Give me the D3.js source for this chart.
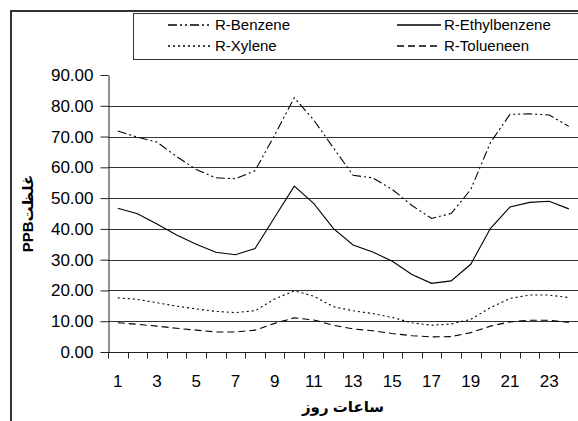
<!DOCTYPE html>
<html>
<head>
<meta charset="utf-8">
<script src="https://cdn.jsdelivr.net/npm/d3@7/dist/d3.min.js"></script>
<style>
  body { margin: 0; background: #fff; }
  svg { display: block; font-family: "Liberation Sans", Arial, "DejaVu Sans", sans-serif; }
</style>
</head>
<body>
<svg width="578" height="421"></svg>
<script>
// hours of the day
var hours = d3.range(1, 25);
var yTicks = [0, 10, 20, 30, 40, 50, 60, 70, 80, 90];

var benzene = [71.8, 69.8, 68.2, 63.5, 59.3, 56.6, 56.3, 58.9, 70.5, 82.6, 75.3, 66.3,
               57.4, 56.6, 52.8, 47.6, 43.4, 45.0, 52.8, 68.0, 77.2, 77.4, 77.0, 73.3];
var ethylbenzene = [46.7, 44.9, 41.6, 38.0, 35.0, 32.4, 31.6, 33.6, 43.8, 53.9, 48.2, 40.1,
                    34.8, 32.5, 29.5, 25.2, 22.3, 23.1, 28.5, 40.1, 47.1, 48.6, 49.0, 46.5];
var xylene = [17.6, 17.1, 16.0, 14.9, 14.0, 13.2, 12.8, 13.4, 17.2, 19.9, 18.1, 14.7,
              13.4, 12.5, 11.2, 9.5, 8.7, 9.1, 10.6, 14.4, 17.4, 18.5, 18.5, 17.7];
var toluene = [9.5, 9.0, 8.4, 7.7, 7.1, 6.5, 6.5, 7.1, 9.3, 11.1, 10.4, 8.7,
               7.5, 6.9, 6.0, 5.3, 4.9, 5.0, 6.3, 8.4, 9.8, 10.3, 10.3, 9.6];

var series = [
  {name: 'R-Benzene', values: benzene, dash: '9,3,2,3,2,3'},
  {name: 'R-Ethylbenzene', values: ethylbenzene, dash: null},
  {name: 'R-Xylene', values: xylene, dash: '2,3'},
  {name: 'R-Tolueneen', values: toluene, dash: '7,4'}
];

var svg = d3.select('svg');
var pLeft = 108, pRight = 578.6, pTop = 75, pBottom = 352;

// chart area border
svg.append('path')
  .attr('d', 'M11,430 L11,11 L590,11')
  .attr('fill', 'none').attr('stroke', '#333').attr('stroke-width', 2);

var x = d3.scaleBand().domain(hours).range([pLeft, pRight]);
var y = d3.scaleLinear().domain([0, 90]).range([pBottom, pTop]);

// gridlines
svg.append('g').selectAll('line')
  .data(yTicks.filter(function(d) { return d > 0 && d < 90; }))
  .enter().append('line')
  .attr('x1', pLeft).attr('x2', 578)
  .attr('y1', function(d) { return Math.round(y(d)) + 0.5; })
  .attr('y2', function(d) { return Math.round(y(d)) + 0.5; })
  .attr('stroke', '#333').attr('stroke-width', 1);

// y axis
var yAxis = svg.append('g')
  .attr('transform', 'translate(' + (pLeft + 0.5) + ',0)')
  .call(d3.axisLeft(y).tickValues(yTicks).tickFormat(d3.format('.2f')).tickSize(8).tickSizeOuter(0).tickPadding(7));
yAxis.selectAll('text').attr('font-size', 17).attr('fill', '#000').attr('font-family', '"Liberation Sans", Arial, sans-serif');
yAxis.selectAll('line, path').attr('stroke', '#222');

// x axis
var xAxis = svg.append('g')
  .attr('transform', 'translate(0,' + (Math.round(pBottom) + 0.5) + ')')
  .call(d3.axisBottom(x).tickSize(0).tickSizeOuter(0).tickPadding(22)
    .tickFormat(function(d) { return d % 2 == 1 ? d : ''; }));
xAxis.select('path').attr('d', 'M' + pLeft + ',0H578').attr('stroke', '#222');
xAxis.selectAll('text').attr('font-size', 17).attr('fill', '#000').attr('font-family', '"Liberation Sans", Arial, sans-serif');
xAxis.selectAll('line.bt')
  .data(hours)
  .enter().append('line')
  .attr('x1', function(d) { return Math.round(x(d)) + 0.5; })
  .attr('x2', function(d) { return Math.round(x(d)) + 0.5; })
  .attr('y1', 0).attr('y2', 6)
  .attr('stroke', '#222');

// lines
var line = d3.line()
  .x(function(d, i) { return x(hours[i]) + x.bandwidth() / 2; })
  .y(function(d) { return y(d); });

svg.append('g').selectAll('path')
  .data(series)
  .enter().append('path')
  .attr('d', function(s) { return line(s.values); })
  .attr('fill', 'none')
  .attr('stroke', '#000')
  .attr('stroke-width', 1.1)
  .attr('stroke-dasharray', function(s) { return s.dash; });

// axis titles
svg.append('text')
  .attr('transform', 'translate(33,' + ((pTop + pBottom) / 2) + ') rotate(-90)')
  .attr('text-anchor', 'middle')
  .attr('font-size', 15).attr('font-weight', 'bold')
  .text('PPBغلظت');

svg.append('text')
  .attr('x', (pLeft + 578) / 2).attr('y', 412)
  .attr('text-anchor', 'middle')
  .attr('font-size', 15).attr('font-weight', 'bold')
  .attr('direction', 'rtl')
  .text('ساعات روز');

// legend
var legend = svg.append('g');
legend.append('rect')
  .attr('x', 133.5).attr('y', 13.5).attr('width', 460).attr('height', 46)
  .attr('fill', '#fff').attr('stroke', '#333').attr('stroke-width', 1);

var lx = [168, 397], ly = [25, 46];
var item = legend.selectAll('g.item')
  .data(series)
  .enter().append('g')
  .attr('transform', function(d, i) { return 'translate(' + lx[i % 2] + ',' + ly[Math.floor(i / 2)] + ')'; });
item.append('line')
  .attr('x1', 0).attr('x2', 44).attr('y1', 0).attr('y2', 0)
  .attr('stroke', '#000').attr('stroke-width', 1.5)
  .attr('stroke-dasharray', function(d) { return d.dash; });
item.append('text')
  .attr('x', 47).attr('y', 5)
  .attr('font-size', 15)
  .text(function(d) { return d.name; });
</script>
</body>
</html>
